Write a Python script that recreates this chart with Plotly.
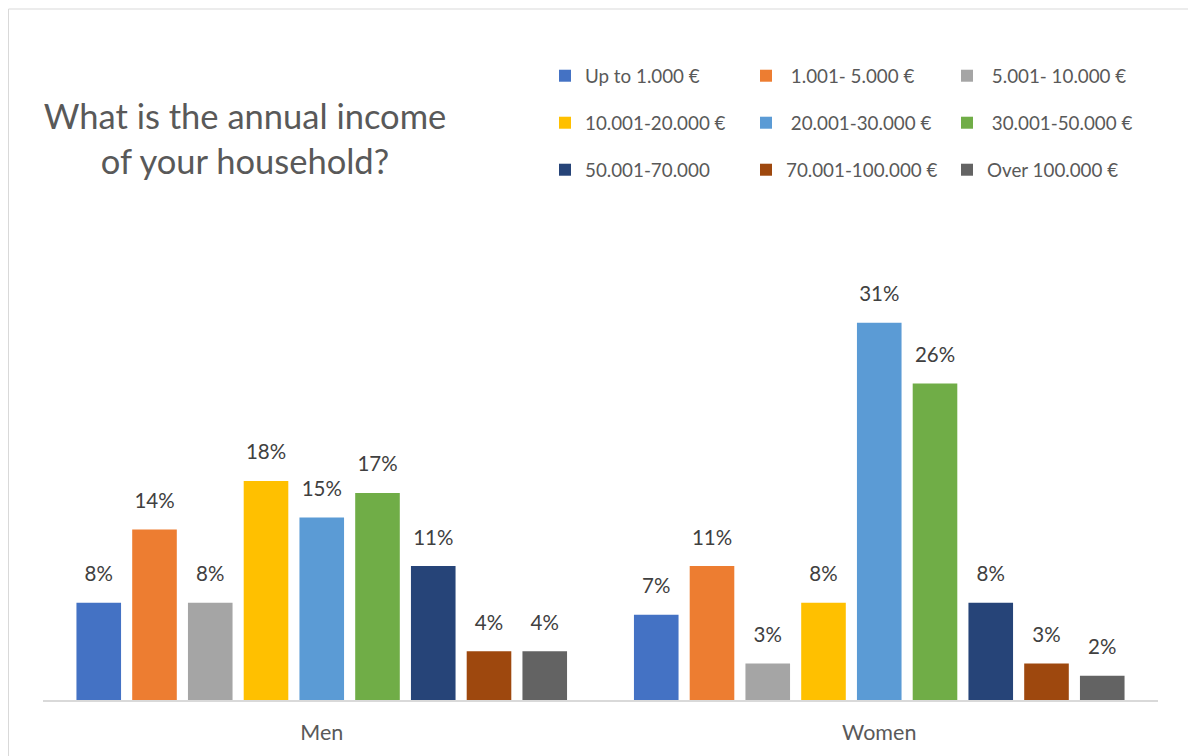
import plotly.graph_objects as go

# Household income survey, share of respondents by income bracket
groups = ["Men", "Women"]
brackets = [
    "Up to 1.000 €",
    "\u00a01.001- 5.000 €",
    "\u00a05.001- 10.000 €",
    "10.001-20.000 €",
    "\u00a020.001-30.000 €",
    "\u00a030.001-50.000 €",
    "50.001-70.000",
    "70.001-100.000 €",
    "Over 100.000 €",
]
men_pct = [8, 14, 8, 18, 15, 17, 11, 4, 4]
women_pct = [7, 11, 3, 8, 31, 26, 8, 3, 2]
colors = ["#4472C4", "#ED7D31", "#A5A5A5", "#FFC000", "#5B9BD5",
          "#70AD47", "#264478", "#9E480E", "#636363"]

FONT = "Lato"
W, H = 1188, 756
L, R, T, B = 43, 30, 274, 56
plot_h = H - T - B
plot_w = W - L - R

legend_names = ["legend", "legend2", "legend3"]

fig = go.Figure()
for i, name in enumerate(brackets):
    fig.add_trace(go.Bar(
        name=name,
        x=groups,
        y=[men_pct[i], women_pct[i]],
        marker=dict(color=colors[i], line=dict(width=0)),
        texttemplate="<span style='font-size:20.5px'>%{y}%</span><br>\u00a0",
        textposition="outside",
        textangle=0,
        textfont=dict(family=FONT, size=12, color="#404040"),
        cliponaxis=False,
        legend=legend_names[i // 3],
        hoverinfo="skip",
    ))


def px_x(px):
    return (px - L) / plot_w


def px_y(py):
    return (H - B - py) / plot_h


legend_rows_y = [76, 123, 170]
legend_common = dict(
    orientation="h",
    xanchor="left",
    yanchor="middle",
    x=px_x(545),
    entrywidth=156,
    entrywidthmode="pixels",
    font=dict(family=FONT, size=18.8, color="#595959"),
    bgcolor="rgba(0,0,0,0)",
    borderwidth=0,
    traceorder="normal",
)

fig.update_layout(
    width=W, height=H,
    margin=dict(l=L, r=R, t=T, b=B, pad=0),
    paper_bgcolor="white",
    plot_bgcolor="white",
    barmode="group",
    bargap=0.1,
    bargroupgap=0.2,
    showlegend=True,
    title=dict(
        text="What is the annual income<br>of your household?",
        x=245 / W, xanchor="center",
        y=1 - 129 / H, yanchor="middle",
        xref="container", yref="container",
        font=dict(family=FONT, size=34.5, color="#595959"),
    ),
    xaxis=dict(
        showline=True, linecolor="#D9D9D9", linewidth=1.5,
        showgrid=False, zeroline=False, ticks="",
        tickfont=dict(family=FONT, size=21.5, color="#595959"),
        ticklabelstandoff=12,
    ),
    yaxis=dict(
        range=[0, 35], visible=False, showgrid=False, zeroline=False,
    ),
    legend=dict(legend_common, y=px_y(legend_rows_y[0])),
    legend2=dict(legend_common, y=px_y(legend_rows_y[1])),
    legend3=dict(legend_common, y=px_y(legend_rows_y[2])),
    shapes=[dict(
        type="rect", xref="paper", yref="paper",
        x0=px_x(8.5), x1=px_x(1200), y0=px_y(800), y1=px_y(9),
        line=dict(color="#D9D9D9", width=1), fillcolor="rgba(0,0,0,0)",
        layer="below",
    )],
)

fig.write_html("out.html")
